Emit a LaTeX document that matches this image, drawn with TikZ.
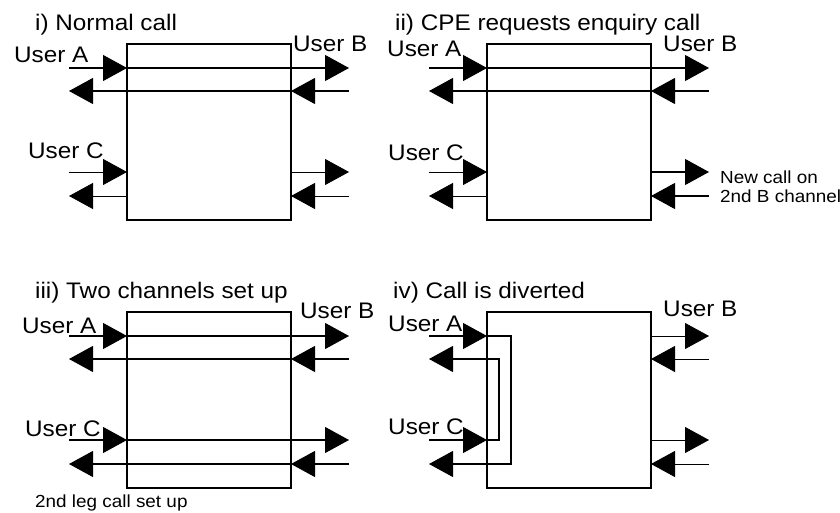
\documentclass[tikz,border=0pt]{standalone}
\usepackage{fontspec}
\setmainfont{Liberation Sans}[FakeStretch=1.08]
\usetikzlibrary{arrows.meta}
\newcommand\bigtxt{\fontsize{22.5}{26}\selectfont}
\newcommand\smalltxt{\fontsize{17.5}{20}\selectfont}
\newcommand\panelpts[3]{%
  \coordinate (#1Lo1) at (69+#2,68+#3);  \coordinate (#1Lb1) at (127+#2,68+#3);
  \coordinate (#1Rb1) at (291+#2,68+#3); \coordinate (#1Ro1) at (349+#2,68+#3);
  \coordinate (#1Lo2) at (69+#2,91+#3);  \coordinate (#1Lb2) at (127+#2,91+#3);
  \coordinate (#1Rb2) at (291+#2,91+#3); \coordinate (#1Ro2) at (349+#2,91+#3);
  \coordinate (#1Lo3) at (69+#2,172+#3);  \coordinate (#1Lb3) at (127+#2,172+#3);
  \coordinate (#1Rb3) at (291+#2,172+#3); \coordinate (#1Ro3) at (349+#2,172+#3);
  \coordinate (#1Lo4) at (69+#2,196+#3);  \coordinate (#1Lb4) at (127+#2,196+#3);
  \coordinate (#1Rb4) at (291+#2,196+#3); \coordinate (#1Ro4) at (349+#2,196+#3);
  \node[boxnode] (#1box) at (127+#2,44+#3) {};
}
\begin{document}
\begin{tikzpicture}[x=1pt,y=-1pt,
  boxnode/.style={draw, line width=1.5pt, minimum width=164pt, minimum height=176pt, anchor=north west, inner sep=0pt, outer sep=0pt},
  arr/.style={-{Triangle[length=24pt,width=26pt]}, line width=1.1pt},
  arrthin/.style={-{Triangle[length=24pt,width=26pt]}, line width=0.8pt},
  lbl/.style={anchor=base west, inner sep=0pt, font=\bigtxt},
  slbl/.style={anchor=base west, inner sep=0pt, font=\smalltxt}]
\useasboundingbox (0,0) rectangle (840,513);
\fill[white] (0,0) rectangle (840,513);
% ---------- Panel i ----------
\panelpts{i}{0}{0}
\node[lbl] (ti) at (35,31) {i) Normal call};
\node[lbl] (iuA) at (14,63) {User A};
\node[lbl] (iuB) at (293,52) {User B};
\node[lbl] (iuC) at (28,159) {User C};
\draw[arr] (iLo1) -- (iLb1);
\draw[arr] (iLb1) -- (iRo1);
\draw[arr] (iRo2) -- (iRb2);
\draw[arr] (iRb2) -- (iLo2);
\draw[arrthin] (iLo3) -- (iLb3);
\draw[arrthin] (iLb4) -- (iLo4);
\draw[arrthin] (iRb3) -- (iRo3);
\draw[arrthin] (iRo4) -- (iRb4);
% ---------- Panel ii ----------
\panelpts{ii}{360}{0}
\node[lbl] (tii) at (395,31) {ii) CPE requests enquiry call};
\node[lbl] (iiuA) at (387,57) {User A};
\node[lbl] (iiuB) at (663,52) {User B};
\node[lbl] (iiuC) at (388,161) {User C};
\node[slbl] (iinew1) at (720,183) {New call on};
\node[slbl] (iinew2) at (720,202) {2nd B channel};
\draw[arr] (iiLo1) -- (iiLb1);
\draw[arr] (iiLb1) -- (iiRo1);
\draw[arr] (iiRo2) -- (iiRb2);
\draw[arr] (iiRb2) -- (iiLo2);
\draw[arrthin] (iiLo3) -- (iiLb3);
\draw[arrthin] (iiLb4) -- (iiLo4);
\draw[arr] (iiRb3) -- (iiRo3);
\draw[arr] (iiRo4) -- (iiRb4);
% ---------- Panel iii ----------
\panelpts{iii}{0}{268}
\node[lbl] (tiii) at (35,298) {iii) Two channels set up};
\node[lbl] (iiiuA) at (22,333) {User A};
\node[lbl] (iiiuB) at (300,318) {User B};
\node[lbl] (iiiuC) at (25,436) {User C};
\node[slbl] (iiileg) at (35,507) {2nd leg call set up};
\draw[arr] (iiiLo1) -- (iiiLb1);
\draw[arr] (iiiLb1) -- (iiiRo1);
\draw[arr] (iiiRo2) -- (iiiRb2);
\draw[arr] (iiiRb2) -- (iiiLo2);
\draw[arr] (iiiLo3) -- (iiiLb3);
\draw[arr] (iiiLb3) -- (iiiRo3);
\draw[arr] (iiiRo4) -- (iiiRb4);
\draw[arr] (iiiRb4) -- (iiiLo4);
% ---------- Panel iv ----------
\panelpts{iv}{360}{268}
\coordinate (ivD1) at (511,336);
\coordinate (ivD2) at (511,464);
\coordinate (ivE1) at (499,440);
\coordinate (ivE2) at (499,359);
\node[lbl] (tiv) at (393,298) {iv) Call is diverted};
\node[lbl] (ivuA) at (388,331) {User A};
\node[lbl] (ivuB) at (663,316) {User B};
\node[lbl] (ivuC) at (388,434) {User C};
\draw[arr] (ivLo1) -- (ivLb1);
\draw[arr] (ivLb1) -- (ivD1) -- (ivD2) -- (ivLo4);
\draw[arr] (ivLo3) -- (ivLb3);
\draw[arr] (ivLb3) -- (ivE1) -- (ivE2) -- (ivLo2);
\draw[arrthin] (ivRb1) -- (ivRo1);
\draw[arrthin] (ivRo2) -- (ivRb2);
\draw[arrthin] (ivRb3) -- (ivRo3);
\draw[arrthin] (ivRo4) -- (ivRb4);
\end{tikzpicture}
\end{document}
